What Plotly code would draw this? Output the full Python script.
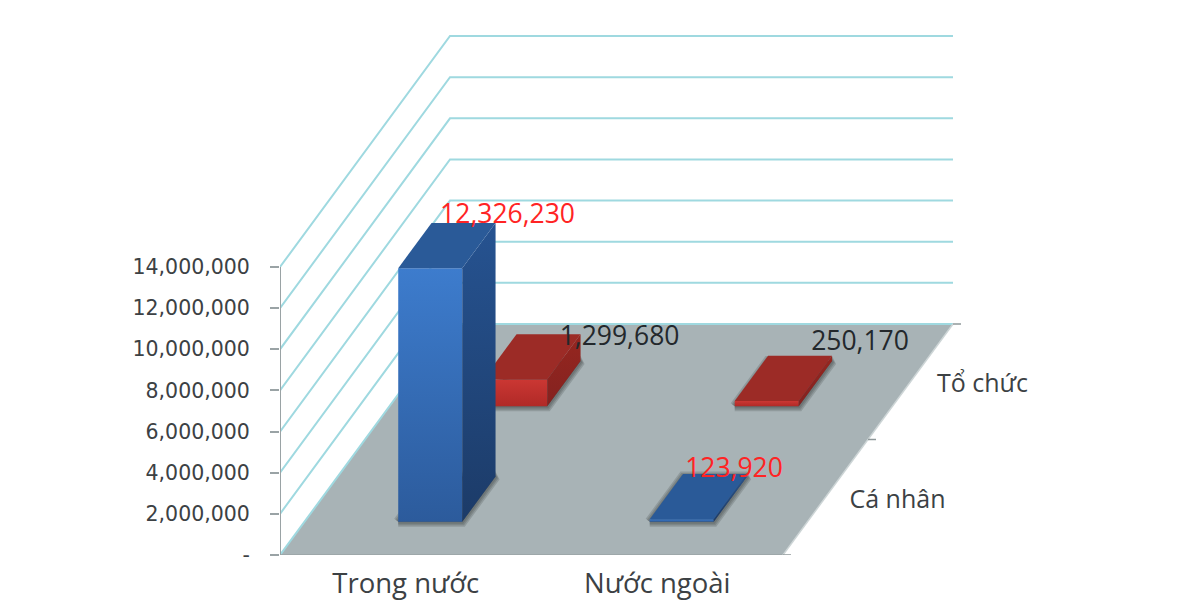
import plotly.graph_objects as go

# ---- data ----
regions = ["Trong nước", "Nước ngoài"]
holders = ["Cá nhân", "Tổ chức"]
ca_nhan = [12326230, 123920]
to_chuc = [1299680, 250170]
y_ticks = [0, 2000000, 4000000, 6000000, 8000000, 10000000, 12000000, 14000000]
y_tick_labels = ["-", "2,000,000", "4,000,000", "6,000,000", "8,000,000",
                 "10,000,000", "12,000,000", "14,000,000"]

# ---- geometry of the oblique projection (page pixels -> axis units) ----
PAGE_W, PAGE_H, BODY = 1188, 602, 8   # the page body adds an 8px margin
FLOOR_L, FLOOR_R, Y14, Y0 = 280, 783, 267, 555
x0, x1 = -0.5, 1.5
PX_X = (x1 - x0) / (FLOOR_R - FLOOR_L)
PX_Y = 14000000 / (Y0 - Y14)
X_RANGE = [x0, x0 + (PAGE_W - FLOOR_L) * PX_X]
Y_RANGE = [0, (Y0 - BODY) * PX_Y]
DEPTH_DX = 170 * PX_X
DEPTH_DY = 231 * PX_Y
BAR_HALF = 32 * PX_X
BAR_D0, BAR_DEPTH = 0.144, 0.196


def proj(x, v, d):
    return x + d * DEPTH_DX, v + d * DEPTH_DY


def poly(points):
    xs, ys = zip(*[proj(*p) for p in points])
    return list(xs) + [xs[0]], list(ys) + [ys[0]]


fig = go.Figure()
HIDE = dict(hoverinfo="skip", showlegend=False, cliponaxis=False)


def add_poly(points, color=None, grad=None, line=None, width=0):
    xs, ys = poly(points)
    kw = dict(x=xs, y=ys, mode="lines", fill="toself",
              line=dict(color=line or "rgba(0,0,0,0)", width=width), **HIDE)
    if grad:
        kw["fillgradient"] = dict(type=grad[0], colorscale=[[0, grad[1]], [1, grad[2]]])
    else:
        kw["fillcolor"] = color
    fig.add_trace(go.Scatter(**kw))


def add_line(xs, ys, color, width):
    fig.add_trace(go.Scatter(x=xs, y=ys, mode="lines",
                             line=dict(color=color, width=width), **HIDE))


# floor
add_poly([(x0, 0, 0), (x1, 0, 0), (x1, 0, 1), (x0, 0, 1)], color="#a8b3b6")

# wall grid lines
GRID = "#9fd9e0"
for t in y_ticks:
    a = proj(x0, t, 0)
    b = proj(x0, t, 1)
    c = proj(x1, t, 1)
    add_line([a[0], b[0], c[0]], [a[1], b[1], c[1]], GRID, 2)

# axis lines drawn only along the real extent of the floor / wall
AXIS = "#9aa3a5"
add_line([x0, x0], [0, y_ticks[-1]], AXIS, 2)
add_line([x0, x1], [0, 0], AXIS, 1.5)

# right floor edge and depth ticks
TICK = "#8f989a"
a = proj(x1, 0, 0)
b = proj(x1, 0, 1)
add_line([a[0], b[0]], [a[1], b[1]], "#cdd5d6", 1.5)
for d in (0, 0.5, 1):
    p = proj(x1, 0, d)
    add_line([p[0], p[0] + 8 * PX_X], [p[1], p[1]], TICK, 1.5)


def add_bar(xc, d0, value, front, side, top):
    l, r = xc - BAR_HALF, xc + BAR_HALF
    d1 = d0 + BAR_DEPTH
    foot = [(l, 0, d0), (r, 0, d0), (r, 0, d1), (l, 0, d1)]
    # soft shadow on the floor, built from a few translucent outlines
    for w in (10, 7, 4):
        add_poly(foot, color="rgba(50,55,55,0.22)", line="rgba(50,55,55,0.2)", width=w)
    add_poly([(l, 0, d0), (r, 0, d0), (r, value, d0), (l, value, d0)],
             grad=("vertical", front[0], front[1]))
    add_poly([(r, 0, d0), (r, 0, d1), (r, value, d1), (r, value, d0)],
             grad=("vertical", side[0], side[1]))
    add_poly([(l, value, d0), (r, value, d0), (r, value, d1), (l, value, d1)], color=top)


BLUE = dict(front=("#2c5b9c", "#3d7ccd"), side=("#1c3b68", "#265391"), top="#2a5a98")
RED = dict(front=("#b02a27", "#cb3733"), side=("#842220", "#96261f"), top="#9c2b26")

# back row first, front row over it
for i in (1, 0):
    add_bar(i, BAR_D0 + 0.5, to_chuc[i], **RED)
for i in (1, 0):
    add_bar(i, BAR_D0, ca_nhan[i], **BLUE)

# value labels: anchored on the centre of the back top edge of each bar, nudged in pixels
LABEL_NUDGE_CN = [(44, 7), (19, 4)]
LABEL_NUDGE_TC = [(71, -4), (60, 12)]


def add_value_label(i, d0, value, nudge, color):
    px, py = proj(i, value, d0 + BAR_DEPTH)
    fig.add_trace(go.Scatter(
        x=[px + nudge[0] * PX_X], y=[py + nudge[1] * PX_Y], mode="text",
        text=[f"{value:,}"], textposition="middle center",
        textfont=dict(family="Open Sans", size=26.5, color=color), **HIDE))


for i in range(2):
    add_value_label(i, BAR_D0 + 0.5, to_chuc[i], LABEL_NUDGE_TC[i], "#23282c")
for i in range(2):
    add_value_label(i, BAR_D0, ca_nhan[i], LABEL_NUDGE_CN[i], "#ff2424")

# depth category labels
for name, d in zip(holders, (0.25, 0.75)):
    px, py = proj(x1, 0, d)
    fig.add_trace(go.Scatter(
        x=[px + 72 * PX_X], y=[py - 4 * PX_Y], mode="text", text=[name],
        textposition="middle center",
        textfont=dict(family="Open Sans", size=25, color="#3c4144"), **HIDE))

fig.update_layout(
    width=PAGE_W - BODY, height=PAGE_H - BODY,
    autosize=False,
    margin=dict(l=FLOOR_L - BODY, r=0, t=0, b=PAGE_H - Y0, pad=0, autoexpand=False),
    paper_bgcolor="white", plot_bgcolor="rgba(0,0,0,0)",
    showlegend=False,
    xaxis=dict(range=X_RANGE, tickmode="array", tickvals=[0, 1], ticktext=regions,
               showgrid=False, zeroline=False, showline=False, ticks="",
               automargin=False, ticklabelstandoff=9,
               tickfont=dict(family="Open Sans", size=27.5, color="#3c4144")),
    yaxis=dict(range=Y_RANGE, tickmode="array", tickvals=y_ticks, ticktext=y_tick_labels,
               showgrid=False, zeroline=False, showline=False,
               automargin=False, ticks="outside", ticklen=9, tickwidth=1.5, tickcolor=AXIS,
               ticklabelstandoff=16,
               tickfont=dict(family="DejaVu Sans", size=20.5, color="#3c4144")),
)

fig.write_html("out.html")
